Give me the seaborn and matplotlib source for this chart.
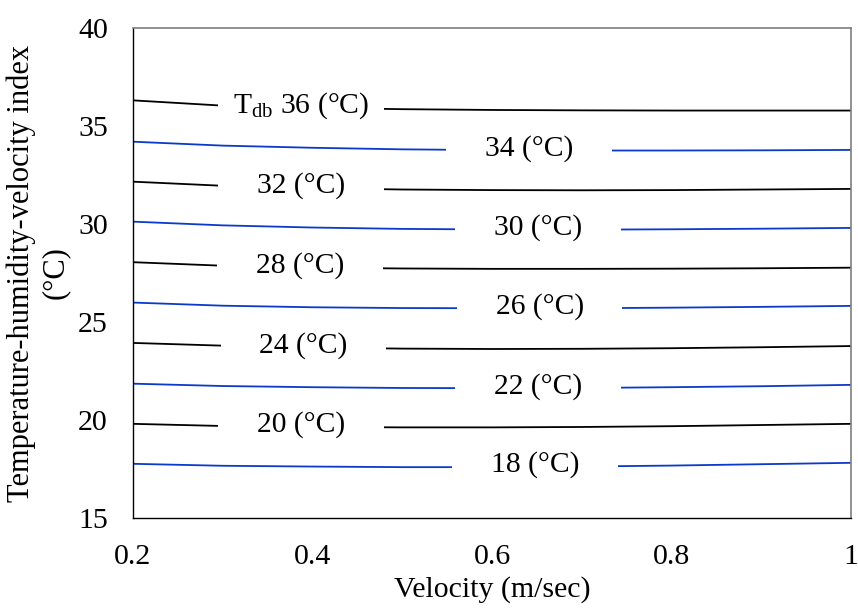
import numpy as np
import pandas as pd
import seaborn as sns
import matplotlib.pyplot as plt
from matplotlib.path import Path

# velocity (m/sec)
velocity = [0.2, 0.3, 0.4, 0.5, 0.6, 0.7, 0.8, 0.9, 1.0]

# temperature-humidity-velocity index for each dry-bulb temperature
thvi_36 = [36.31, 36.04, 35.93, 35.86, 35.82, 35.80, 35.79, 35.79, 35.79]
thvi_34 = [34.20, 34.00, 33.89, 33.81, 33.77, 33.75, 33.75, 33.76, 33.78]
thvi_32 = [32.16, 31.95, 31.83, 31.76, 31.73, 31.72, 31.73, 31.76, 31.79]
thvi_30 = [30.12, 29.93, 29.82, 29.75, 29.72, 29.71, 29.73, 29.76, 29.80]
thvi_28 = [28.05, 27.87, 27.77, 27.73, 27.71, 27.71, 27.72, 27.74, 27.77]
thvi_26 = [25.99, 25.83, 25.75, 25.71, 25.70, 25.70, 25.73, 25.77, 25.82]
thvi_24 = [23.93, 23.79, 23.69, 23.64, 23.62, 23.63, 23.66, 23.71, 23.77]
thvi_22 = [21.85, 21.73, 21.67, 21.63, 21.62, 21.63, 21.67, 21.72, 21.79]
thvi_20 = [19.80, 19.69, 19.64, 19.62, 19.62, 19.64, 19.68, 19.74, 19.80]
thvi_18 = [17.76, 17.66, 17.62, 17.59, 17.59, 17.62, 17.67, 17.74, 17.81]

temps = [36, 34, 32, 30, 28, 26, 24, 22, 20, 18]
series = [thvi_36, thvi_34, thvi_32, thvi_30, thvi_28,
          thvi_26, thvi_24, thvi_22, thvi_20, thvi_18]
labels = ['T$_{\\mathrm{db}}$ 36 (°C)', '34 (°C)', '32 (°C)', '30 (°C)', '28 (°C)',
          '26 (°C)', '24 (°C)', '22 (°C)', '20 (°C)', '18 (°C)']

xticks = [0.2, 0.4, 0.6, 0.8, 1.0]
xtick_labels = ['0.2', '0.4', '0.6', '0.8', '1']
yticks = [15, 20, 25, 30, 35, 40]

# long-form table for seaborn
df = pd.DataFrame({
    'velocity': np.tile(velocity, len(temps)),
    'thvi': np.concatenate(series),
    'tdb': np.repeat(temps, len(velocity)),
})

black = 'black'
blue = '#0a3acb'
palette = {t: (black if i % 2 == 0 else blue) for i, t in enumerate(temps)}

sns.set_style('white')
plt.rcParams['font.family'] = ['Liberation Serif', 'DejaVu Serif']
plt.rcParams['mathtext.fontset'] = 'custom'
plt.rcParams['mathtext.rm'] = 'Liberation Serif'
plt.rcParams['mathtext.it'] = 'Liberation Serif:italic'
plt.rcParams['text.color'] = 'black'
plt.rcParams['axes.labelcolor'] = 'black'
plt.rcParams['xtick.color'] = 'black'
plt.rcParams['ytick.color'] = 'black'

fig, ax = plt.subplots(figsize=(8.58, 6.10), dpi=100)
fig.subplots_adjust(left=0.155, right=0.992, top=0.954, bottom=0.151)

sns.lineplot(data=df, x='velocity', y='thvi', hue='tdb', palette=palette,
             linewidth=1.3, legend=False, ax=ax)


# fixed width white box that hides the line behind each label
def gap_box(x0, y0, width, height, mutation_size):
    w = 5.6 * mutation_size
    py = 0.08 * mutation_size
    cx = x0 + width / 2
    verts = [(cx - w / 2, y0 - py), (cx + w / 2, y0 - py),
             (cx + w / 2, y0 + height + py), (cx - w / 2, y0 + height + py),
             (cx - w / 2, y0 - py)]
    return Path(verts, closed=True)


label_x = [0.387, 0.641, 0.387, 0.651, 0.386, 0.653, 0.390, 0.651, 0.387, 0.648]
for lx, vals, text in zip(label_x, series, labels):
    ly = np.interp(lx, velocity, vals)
    ax.text(lx, ly + 0.1, text, ha='center', va='center', fontsize=21.3,
            color='black',
            bbox=dict(boxstyle=gap_box, facecolor='white', edgecolor='none'),
            zorder=5)

ax.set_xlim(0.2, 1.0)
ax.set_ylim(15, 40)
ax.set_xticks(xticks)
ax.set_xticklabels(xtick_labels)
ax.set_yticks(yticks)
ax.tick_params(axis='both', length=0, labelsize=21.5, labelcolor='black')
ax.tick_params(axis='x', pad=19)
ax.tick_params(axis='y', pad=18)

ax.set_xlabel('Velocity (m/sec)', fontsize=21.5, labelpad=4)
ax.set_ylabel('Temperature-humidity-velocity index\n(°C)', fontsize=22,
              labelpad=6, linespacing=1.2)

for side in ['left', 'bottom']:
    ax.spines[side].set_color('black')
    ax.spines[side].set_linewidth(1.0)
for side in ['top', 'right']:
    ax.spines[side].set_color('#7f7f7f')
    ax.spines[side].set_linewidth(1.2)

plt.savefig('out.png', dpi=100)
